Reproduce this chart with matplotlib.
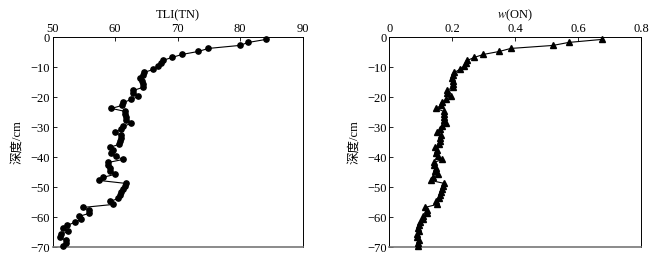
import matplotlib
matplotlib.use("Agg")
import matplotlib.pyplot as plt

plt.rcParams['font.family'] = ['Liberation Serif', 'Noto Sans CJK SC']
plt.rcParams['mathtext.fontset'] = 'stix'
plt.rcParams['axes.unicode_minus'] = True

depth = [-0.7, -1.7, -2.7, -3.7, -4.7, -5.7, -6.7, -7.7, -8.7, -9.7,
         -10.7, -11.7, -12.7, -13.7, -14.7, -15.7, -16.7, -17.7, -18.7, -19.7,
         -20.7, -21.7, -22.7, -23.7, -24.7, -25.7, -26.7, -27.7, -28.7, -29.7,
         -30.7, -31.7, -32.7, -33.7, -34.7, -35.7, -36.7, -37.7, -38.7, -39.7,
         -40.7, -41.7, -42.7, -43.7, -44.7, -45.7, -46.7, -47.7, -48.7, -49.7,
         -50.7, -51.7, -52.7, -53.7, -54.7, -55.7, -56.7, -57.7, -58.7, -59.7,
         -60.7, -61.7, -62.7, -63.7, -64.7, -65.7, -66.7, -67.7, -68.7, -69.7]

tli_tn = [84.1, 81.3, 79.9, 74.9, 73.3, 70.7, 69.1, 67.6, 67.3, 66.8,
          66.1, 64.6, 64.4, 64.0, 64.3, 64.5, 64.4, 62.9, 62.9, 63.7,
          62.6, 61.3, 61.1, 59.4, 61.6, 61.6, 61.7, 61.7, 62.5, 61.3,
          61.0, 59.9, 61.0, 60.9, 60.7, 60.6, 59.1, 59.6, 59.3, 60.1,
          61.3, 58.9, 58.9, 59.2, 59.1, 59.9, 58.0, 57.4, 61.7, 61.5,
          61.3, 61.0, 60.8, 60.5, 59.2, 59.7, 54.9, 55.8, 55.8, 54.2,
          54.6, 53.5, 52.3, 51.7, 52.4, 51.4, 51.2, 52.1, 52.1, 51.7]

w_on = [0.675, 0.570, 0.520, 0.386, 0.350, 0.299, 0.270, 0.248, 0.245, 0.236,
        0.224, 0.207, 0.203, 0.198, 0.201, 0.203, 0.202, 0.183, 0.184, 0.195,
        0.180, 0.167, 0.163, 0.150, 0.173, 0.174, 0.174, 0.175, 0.180, 0.167,
        0.162, 0.151, 0.163, 0.162, 0.160, 0.158, 0.146, 0.152, 0.148, 0.156,
        0.168, 0.143, 0.143, 0.148, 0.146, 0.155, 0.139, 0.132, 0.175, 0.170,
        0.166, 0.163, 0.161, 0.158, 0.148, 0.152, 0.113, 0.119, 0.120, 0.106,
        0.107, 0.098, 0.094, 0.090, 0.094, 0.089, 0.087, 0.093, 0.092, 0.092]

left_xticks = [50, 60, 70, 80, 90]
right_xticks = [0, 0.2, 0.4, 0.6, 0.8]
right_xticklabels = ['0', '0.2', '0.4', '0.6', '0.8']
yticks = [0, -10, -20, -30, -40, -50, -60, -70]

fig = plt.figure(figsize=(6.69, 2.57), dpi=100)
ax1 = fig.add_axes([0.0788, 0.0377, 0.3737, 0.817])
ax2 = fig.add_axes([0.5819, 0.0377, 0.3762, 0.817])


def style(ax, xlim, xticks, xlabels, label):
    ax.set_xlim(*xlim)
    ax.set_ylim(-70, 0)
    ax.set_xticks(xticks)
    if xlabels is not None:
        ax.set_xticklabels(xlabels)
    ax.set_yticks(yticks)
    ax.xaxis.tick_top()
    ax.xaxis.set_label_position('top')
    ax.tick_params(axis='both', direction='in', length=3, width=0.6,
                   labelsize=9, pad=2, colors='black')
    ax.set_xlabel(label, fontsize=9, labelpad=3)
    ax.set_ylabel('深度/cm', fontsize=9, labelpad=5)
    for s in ['left', 'top', 'right']:
        ax.spines[s].set_linewidth(0.7)
        ax.spines[s].set_color('black')
    ax.spines['bottom'].set_linewidth(1.2)
    ax.spines['bottom'].set_color('#777777')


ax1.plot(tli_tn, depth, color='black', lw=0.8, marker='o', ms=3.8,
         clip_on=False, zorder=3)
style(ax1, (50, 90), left_xticks, None, 'TLI(TN)')

ax2.plot(w_on, depth, color='black', lw=0.8, marker='^', ms=3.8,
         clip_on=False, zorder=3)
style(ax2, (0, 0.8), right_xticks, right_xticklabels, r'$\mathit{w}$(ON)')

fig.savefig('out.png', dpi=100)
